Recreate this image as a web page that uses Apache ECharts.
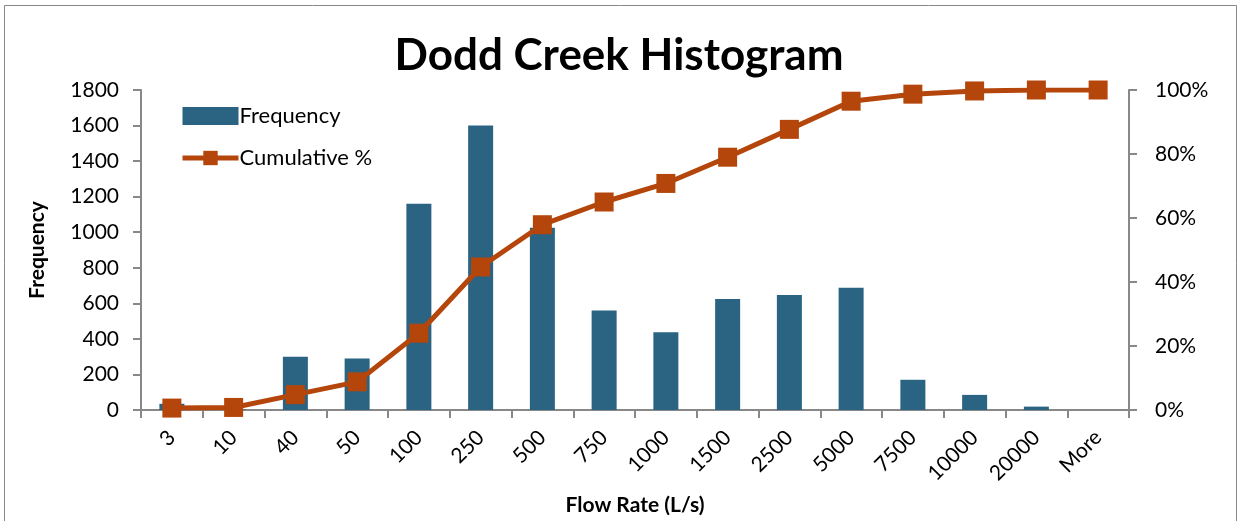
<!DOCTYPE html>
<html><head><meta charset="utf-8">
<script src="https://cdn.jsdelivr.net/npm/echarts@6/dist/echarts.min.js"></script>
<style>html,body{margin:0;padding:0;background:#fff}#c{width:1238px;height:521px}</style>
</head><body><div id="c"></div>
<script>
const categories = ['3','10','40','50','100','250','500','750','1000','1500','2500','5000','7500','10000','20000','More'];
const frequency = [35, 3, 300, 290, 1160, 1600, 1025, 560, 438, 624, 647, 687, 170, 85, 19, 0];
const cumulativePct = [0.6, 0.8, 4.8, 8.8, 24, 44.7, 57.9, 65, 70.8, 79, 87.7, 96.5, 98.7, 99.7, 100, 100];

const FONT = 'Lato';
const chart = echarts.init(document.getElementById('c'), null, {renderer:'canvas'});
chart.setOption({
  animation:false,
  backgroundColor:'#fff',
  graphic:[{type:'rect',shape:{x:4.5,y:5.5,width:1232,height:520},style:{fill:'none',stroke:'#888',lineWidth:1}}],
  title:{text:'Dodd Creek Histogram',left:'center',top:29,textStyle:{fontFamily:FONT,fontWeight:'bold',fontSize:44,color:'#000'}},
  legend:{orient:'vertical',left:175,top:100,itemGap:20,itemWidth:56,itemHeight:18,
    textStyle:{fontFamily:FONT,fontSize:22,color:'#000',padding:[0,0,0,-4]},
    data:[{name:'Frequency',icon:'rect'},{name:'Cumulative %',lineStyle:{width:5,color:'#B5460B'}}]},
  grid:{left:141,right:109,top:90,bottom:109,containLabel:false},
  xAxis:{type:'category',data:categories,boundaryGap:true,
    axisLine:{lineStyle:{color:'#888',width:2}},
    axisTick:{show:true,length:8,lineStyle:{color:'#888',width:2},alignWithLabel:false},
    axisLabel:{rotate:45,fontFamily:FONT,fontSize:21,color:'#000',margin:24,interval:0},
    name:'Flow Rate (L/s)',nameLocation:'middle',nameGap:85,
    nameTextStyle:{fontFamily:FONT,fontWeight:'bold',fontSize:21,color:'#000'}},
  yAxis:[
    {type:'value',min:0,max:1800,interval:200,
     axisLine:{show:true,lineStyle:{color:'#888',width:2}},
     axisTick:{show:true,length:8,lineStyle:{color:'#888',width:2}},
     splitLine:{show:false},
     axisLabel:{fontFamily:FONT,fontSize:21,color:'#000',margin:22,formatter:function(v){return String(v);}},
     name:'Frequency',nameLocation:'middle',nameGap:93,nameRotate:90,
     nameTextStyle:{fontFamily:FONT,fontWeight:'bold',fontSize:21,color:'#000'}},
    {type:'value',min:0,max:100,interval:20,position:'right',
     axisLine:{show:true,lineStyle:{color:'#888',width:2}},
     axisTick:{show:true,length:8,lineStyle:{color:'#888',width:2}},
     splitLine:{show:false},
     axisLabel:{fontFamily:FONT,fontSize:21,color:'#000',margin:26,formatter:'{value}%'}}
  ],
  series:[
    {name:'Frequency',type:'bar',data:frequency,barWidth:25,itemStyle:{color:'#2A6482'}},
    {name:'Cumulative %',type:'line',yAxisIndex:1,data:cumulativePct,
     symbol:'rect',symbolSize:19,lineStyle:{color:'#B5460B',width:5},
     itemStyle:{color:'#B5460B'}}
  ]
});
</script></body></html>
